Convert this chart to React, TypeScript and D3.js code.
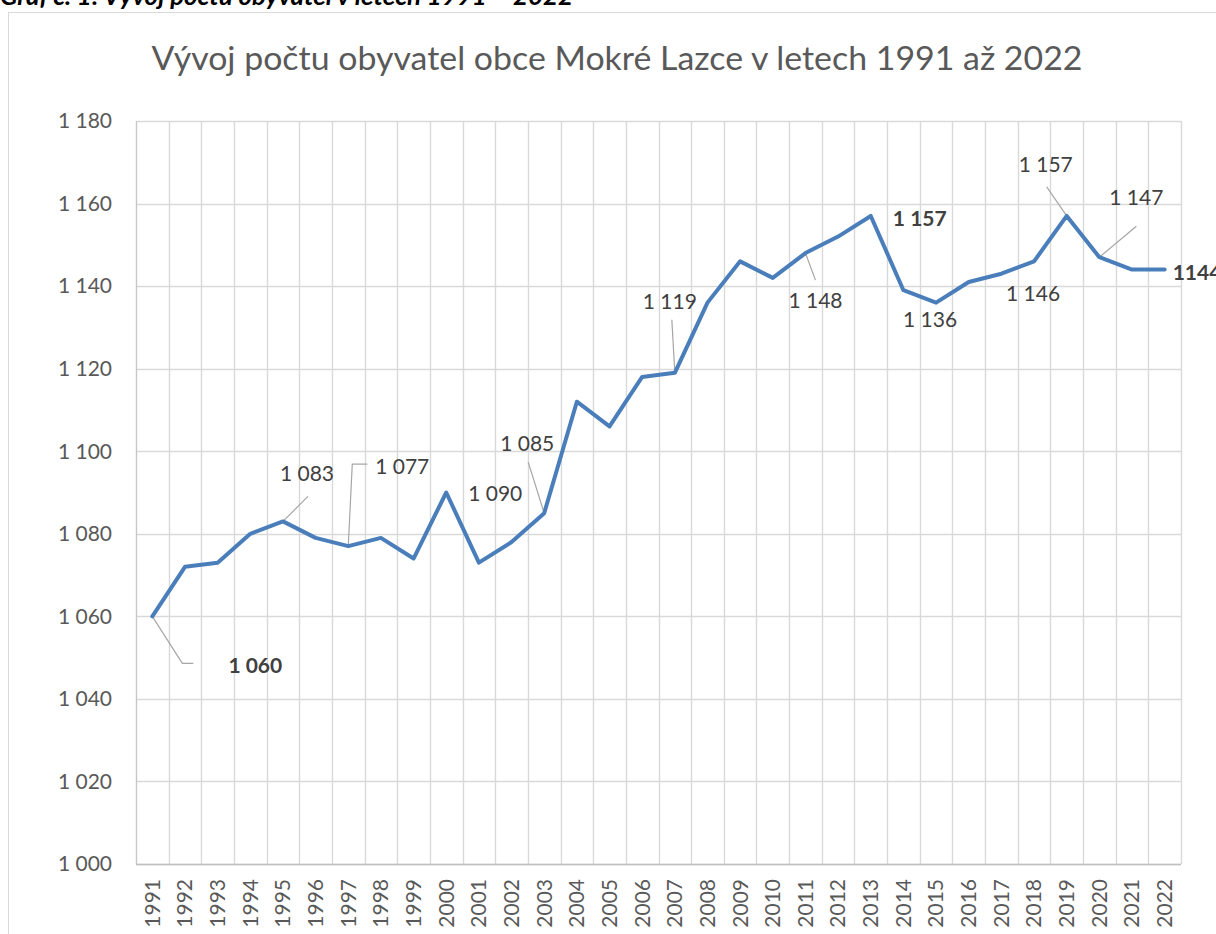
import * as d3 from 'd3';
import React from 'react';

// Population of Mokré Lazce, 1991–2022
const years = d3.range(1991, 2023).map(String);
const population = [
  1060, 1072, 1073, 1080, 1083, 1079, 1077, 1079, 1074, 1090,
  1073, 1078, 1085, 1112, 1106, 1118, 1119, 1136, 1146, 1142,
  1148, 1152, 1157, 1139, 1136, 1141, 1143, 1146, 1157, 1147,
  1144, 1144,
];
const yTicks = [1000, 1020, 1040, 1060, 1080, 1100, 1120, 1140, 1160, 1180];

// which points carry a data label, and where the label sits (offset from the point)
const labelLayout: { year: string; text: string; dx: number; dy: number; bold?: boolean; anchor?: string; leader?: number[][] }[] = [
  { year: '1991', text: '1 060', dx: 103, dy: 49, bold: true, leader: [[0, 0], [30, 47], [41, 47]] },
  { year: '1995', text: '1 083', dx: 24, dy: -48, leader: [[0, 0], [25, -25]] },
  { year: '1997', text: '1 077', dx: 54, dy: -80, leader: [[0, 0], [4, -82], [19, -82]] },
  { year: '2000', text: '1 090', dx: 49, dy: 1 },
  { year: '2003', text: '1 085', dx: -17, dy: -69, leader: [[0, 0], [-16, -51]] },
  { year: '2007', text: '1 119', dx: -5, dy: -71, leader: [[0, 0], [-3, -53]] },
  { year: '2011', text: '1 148', dx: 10, dy: 48, leader: [[0, 0], [10, 27]] },
  { year: '2013', text: '1 157', dx: 49, dy: 3, bold: true },
  { year: '2015', text: '1 136', dx: -6, dy: 17 },
  { year: '2018', text: '1 146', dx: -1, dy: 32 },
  { year: '2019', text: '1 157', dx: -21, dy: -51, leader: [[0, 0], [-20, -29]] },
  { year: '2020', text: '1 147', dx: 37, dy: -60, leader: [[0, 0], [37, -31]] },
  { year: '2022', text: '1144', dx: 8, dy: 3, bold: true, anchor: 'start' },
];

const W = 1216;
const H = 934;
const plot = { left: 136, right: 1181, top: 121, bottom: 864 };
const font = 'Lato, "Open Sans", sans-serif';

const fmt = (v: number) => d3.format(',')(v).replace(',', ' ');

export default function App() {
  const x = d3.scaleBand().domain(years).range([plot.left, plot.right]);
  const y = d3.scaleLinear().domain([1000, 1180]).range([plot.bottom, plot.top]);
  const cx = (yr: string) => (x(yr) as number) + x.bandwidth() / 2;

  const line = d3.line<number>()
    .x((_, i) => cx(years[i]))
    .y(d => y(d));

  const bounds = years.map(yr => x(yr) as number).concat([plot.right]);

  return (
    <svg width={W} height={H} style={{ position: 'absolute', left: 0, top: 0, background: '#fff' }}>
      <text x={0} y={5} fontFamily={font} fontSize={24} fontWeight="bold" fontStyle="italic" fill="#000"
        textLength={573} lengthAdjust="spacingAndGlyphs">
        Graf č. 1: Vývoj počtu obyvatel v letech 1991 – 2022
      </text>
      <rect x={8.5} y={12.5} width={W + 20} height={H + 20} fill="#fff" stroke="#d9d9d9" />

      <text x={617} y={58} dy="0.35em" textAnchor="middle" fontFamily={font} fontSize={33} fill="#595959"
        textLength={931} lengthAdjust="spacingAndGlyphs">
        Vývoj počtu obyvatel obce Mokré Lazce v letech 1991 až 2022
      </text>

      {/* gridlines */}
      {yTicks.map(t => (
        <line key={'h' + t} x1={plot.left} x2={plot.right} y1={Math.round(y(t)) + 0.5} y2={Math.round(y(t)) + 0.5} stroke="#d9d9d9" strokeWidth={1.4} />
      ))}
      {bounds.map((b, i) => (
        <line key={'v' + i} x1={Math.round(b) + 0.5} x2={Math.round(b) + 0.5} y1={plot.top} y2={plot.bottom} stroke={i === 0 ? '#c8c8c8' : '#d9d9d9'} strokeWidth={1.4} />
      ))}
      <line x1={plot.left} x2={plot.right} y1={plot.bottom + 0.5} y2={plot.bottom + 0.5} stroke="#bfbfbf" strokeWidth={1.4} />

      {/* y tick labels */}
      {yTicks.map(t => (
        <text key={'yl' + t} x={plot.left - 24} y={y(t)} dy="0.35em" textAnchor="end" fontFamily={font} fontSize={21} fill="#595959">
          {fmt(t)}
        </text>
      ))}

      {/* x tick labels */}
      {years.map(yr => (
        <text key={'xl' + yr} transform={`translate(${cx(yr)},${plot.bottom + 15}) rotate(-90)`} dy="0.35em" textAnchor="end" fontFamily={font} fontSize={21} fill="#595959">
          {yr}
        </text>
      ))}

      {/* leader lines */}
      {labelLayout.filter(l => l.leader).map(l => {
        const i = years.indexOf(l.year);
        const px = cx(l.year);
        const py = y(population[i]);
        const pts = (l.leader as number[][]).map(([a, b]) => [px + a, py + b] as [number, number]);
        return <path key={'ld' + l.year} d={d3.line()(pts) as string} fill="none" stroke="#a6a6a6" strokeWidth={1.2} />;
      })}

      <path d={line(population) as string} fill="none" stroke="#4a7ebb" strokeWidth={4} strokeLinejoin="round" strokeLinecap="round" />

      {/* data labels */}
      {labelLayout.map(l => {
        const i = years.indexOf(l.year);
        return (
          <text key={'dl' + l.year} x={cx(l.year) + l.dx} y={y(population[i]) + l.dy} dy="0.35em"
            textAnchor={l.anchor || 'middle'} fontFamily={font} fontSize={21}
            fontWeight={l.bold ? 'bold' : 'normal'} fill="#404040">
            {l.text}
          </text>
        );
      })}
    </svg>
  );
}
